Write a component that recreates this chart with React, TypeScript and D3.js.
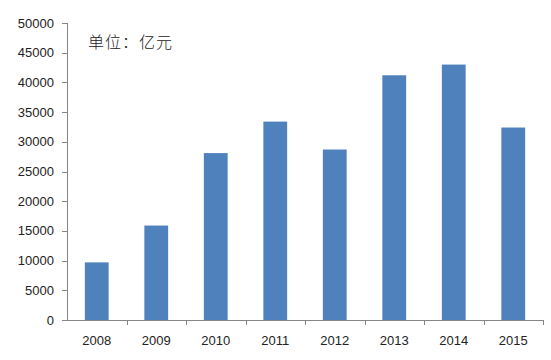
import React from "react";
import * as d3 from "d3";

const years = ["2008", "2009", "2010", "2011", "2012", "2013", "2014", "2015"];
const values = [9700, 15900, 28100, 33400, 28700, 41200, 43000, 32400];
const yTicks = [0, 5000, 10000, 15000, 20000, 25000, 30000, 35000, 40000, 45000, 50000];
const unitLabel = "单位：亿元";

export default function App() {
  const W = 551, H = 360;
  const left = 67, right = 543, top = 23, bottom = 320;
  const x = d3.scaleBand<string>().domain(years).range([left, right]).paddingInner(0.6).paddingOuter(0.3);
  const xb = d3.scaleBand<string>().domain(years).range([left, right]);
  const y = d3.scaleLinear().domain([0, 50000]).range([bottom, top]);
  const axisColor = "#868686";
  const font = "'Liberation Sans', Arial, sans-serif";
  return (
    <svg width={W} height={H} style={{ position: "absolute", left: 0, top: 0, background: "#fff" }}>
      <rect x={0} y={0} width={W} height={H} fill="#fff" />
      {values.map((v, i) => (
        <rect key={years[i]} x={x(years[i])} y={y(v)} width={x.bandwidth()} height={y(0) - y(v)} fill="#4F81BD" />
      ))}
      <line x1={left + 0.5} x2={left + 0.5} y1={top} y2={bottom} stroke={axisColor} />
      {yTicks.map((t) => (
        <g key={t}>
          <line x1={left - 5} x2={left} y1={Math.round(y(t)) + 0.5} y2={Math.round(y(t)) + 0.5} stroke={axisColor} />
          <text x={54} y={y(t)} dy="0.35em" textAnchor="end" fontSize={13} fontFamily={font} fill="#222">{t}</text>
        </g>
      ))}
      <line x1={left} x2={right} y1={bottom + 0.5} y2={bottom + 0.5} stroke={axisColor} />
      {years.map((yr) => (
        <line key={"t" + yr} x1={Math.round(xb(yr)! + xb.bandwidth()) + 0.5} x2={Math.round(xb(yr)! + xb.bandwidth()) + 0.5} y1={bottom} y2={bottom + 5} stroke={axisColor} />
      ))}
      {years.map((yr) => (
        <text key={"l" + yr} x={xb(yr)! + xb.bandwidth() / 2} y={340} dy="0.35em" textAnchor="middle" fontSize={13} fontFamily={font} fill="#222">{yr}</text>
      ))}
      <text x={88} y={42} dy="0.35em" fontSize={16} letterSpacing={1} fontWeight={300} fontFamily="'Noto Sans CJK SC', sans-serif" fill="#222">{unitLabel}</text>
    </svg>
  );
}
